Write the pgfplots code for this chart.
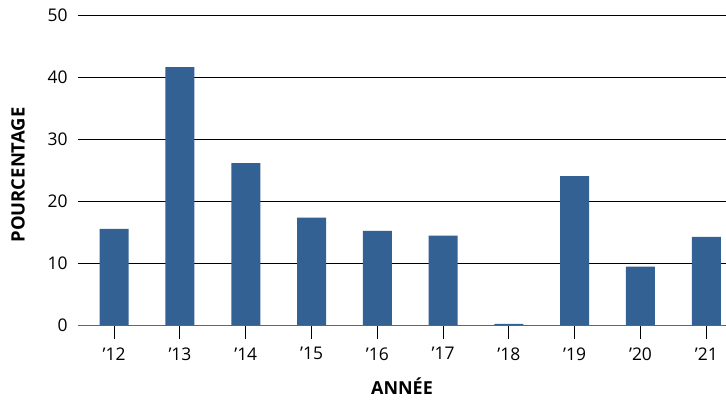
\documentclass[border=0pt]{standalone}
\usepackage{pgfplots}
\pgfplotsset{compat=1.18}
\usepackage{fontspec}
\setmainfont{Open Sans}
\definecolor{barblue}{RGB}{51,97,148}

\begin{document}
\begin{tikzpicture}
\path[use as bounding box] (-78bp,-75bp) rectangle (648bp,325bp);
\begin{axis}[
    at={(0,0)}, anchor=south west,
    scale only axis,
    width=648bp, height=310bp,
    ybar, bar width=29bp,
    xmin=-0.55, xmax=9.3,
    ymin=0, ymax=50,
    ytick={0,10,...,50},
    xtick=data,
    xticklabels={’12,’13,’14,’15,’16,’17,’18,’19,’20,’21},
    axis x line*=bottom,
    axis y line*=left,
    y axis line style={draw=none},
    ymajorgrids,
    grid style={black, line width=0.9bp},
    x axis line style={gray!80!black, line width=1bp},
    xtick style={black, line width=1bp},
    tick align=outside,
    major tick length=14bp,
    ytick style={draw=none},
    /pgf/number format/assume math mode=true,
    ticklabel style={font=\fontsize{17.5}{20}\selectfont},
    yticklabel style={xshift=7bp},
    xticklabel style={yshift=-5bp},
    xlabel={\textbf{ANNÉE}},
    ylabel={\textbf{POURCENTAGE}},
    xlabel style={font=\fontsize{18}{20}\selectfont, yshift=-11bp},
    ylabel style={font=\fontsize{18.5}{20}\selectfont, yshift=16bp, xshift=-5bp},
    clip=false,
]
\addplot[fill=barblue, draw=none, bar shift=0pt] coordinates {
    (0,15.5) (1,41.6) (2,26.1) (3,17.3) (4,15.2)
    (5,14.4) (6,0.2) (7,24.0) (8,9.4) (9,14.2)
};
\end{axis}
\end{tikzpicture}
\end{document}
